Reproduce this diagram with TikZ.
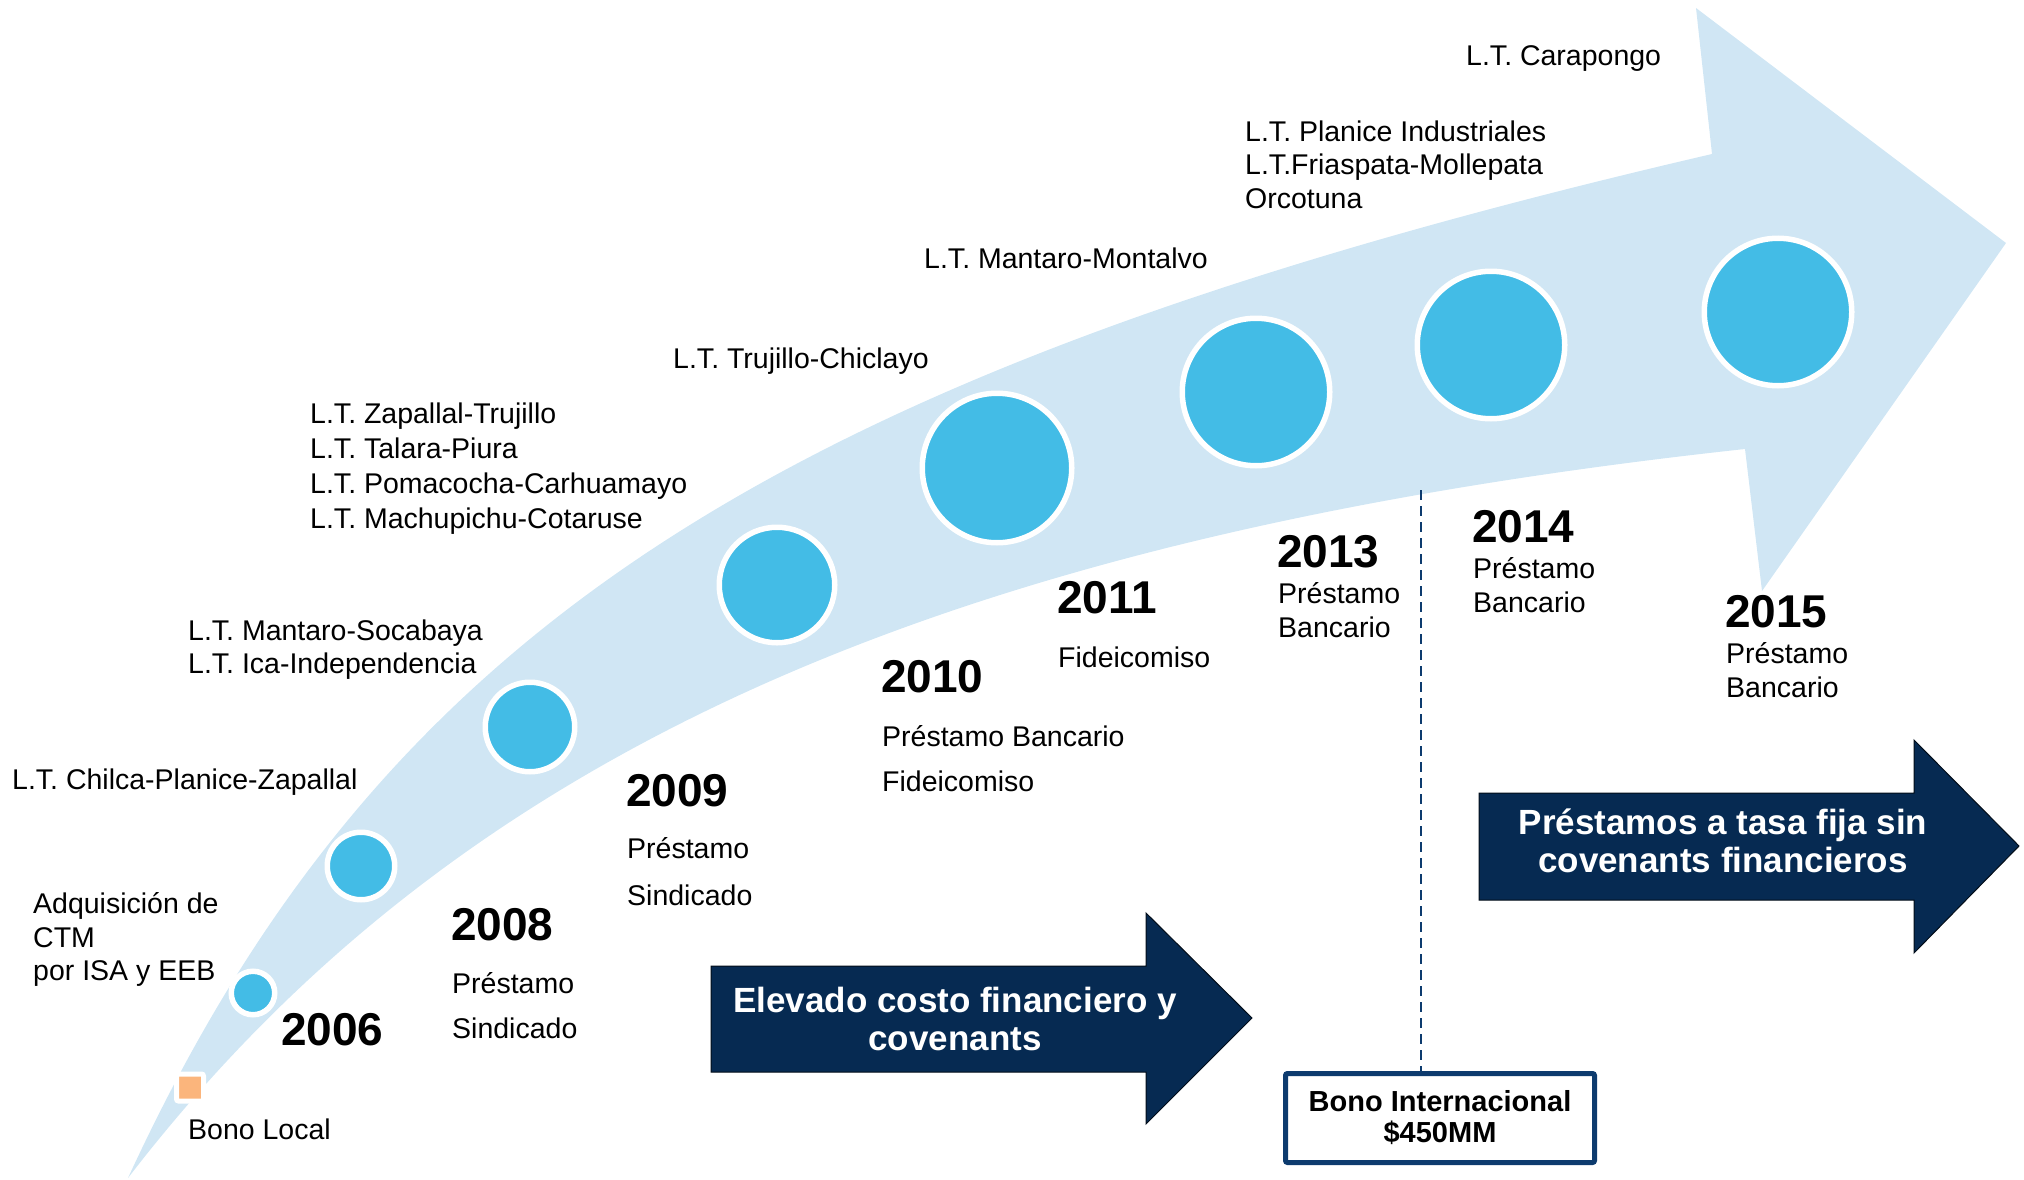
\documentclass[tikz,border=0pt]{standalone}
\usepackage{fontspec}
\setmainfont{Liberation Sans}
\newcommand\lblfont{\fontsize{28.5}{33}\selectfont}
\newcommand\yrfont{\fontsize{46}{50}\selectfont\bfseries}
\newcommand\banfont{\fontsize{35}{35}\selectfont\bfseries}
\newcommand\bxfont{\fontsize{29}{31}\selectfont\bfseries}
\definecolor{bandc}{RGB}{208,230,244}
\definecolor{dotc}{RGB}{67,188,230}
\definecolor{navyc}{RGB}{6,42,82}
\definecolor{boxc}{RGB}{13,59,110}
\definecolor{orangec}{RGB}{251,181,124}
\begin{document}
\begin{tikzpicture}[x=1pt,y=-1pt,
  lbl/.style={anchor=base west, inner sep=0pt, font=\lblfont},
  yr/.style={anchor=base west, inner sep=0pt, font=\yrfont},
  ban/.style={anchor=base, inner sep=0pt, font=\banfont, text=white},
  dot/.style={circle, fill=dotc, draw=white, line width=5.5pt, inner sep=0pt, minimum size=#1},
  banner/.style={fill=navyc, draw=black!70!navyc, line width=1pt}]
\useasboundingbox (0,0) rectangle (2024,1180);
% big curved arrow
\fill[bandc] (128,1178) .. controls (382,627) and (778,371) .. (1712,154)
  -- (1696,8) -- (2006,243) -- (1762,591) -- (1745,449)
  .. controls (925,538) and (449,761) .. (128,1178) -- cycle;
% milestones
\node[rectangle, fill=orangec, draw=white, line width=5pt, rounded corners=2pt, minimum size=27pt, inner sep=0pt] (sq) at (190,1087.5) {};
\node[dot=43.5pt] (c1) at (253,993) {};
\node[dot=67.5pt] (c2) at (361,866) {};
\node[dot=89.5pt] (c3) at (530,727) {};
\node[dot=115.5pt] (c4) at (777,585) {};
\node[dot=149.5pt] (c5) at (997,468) {};
\node[dot=147.5pt] (c6) at (1256,392) {};
\node[dot=147.5pt] (c7) at (1491,345) {};
\node[dot=147.5pt] (c8) at (1778,312) {};
% upper labels
\node[lbl] (t1) at (1466,66) {L.T. Carapongo};
\node[lbl] (t2a) at (1245,142) {L.T. Planice Industriales};
\node[lbl] (t2b) at (1245,175) {L.T.Friaspata-Mollepata};
\node[lbl] (t2c) at (1245,208) {Orcotuna};
\node[lbl] (t3) at (924,268) {L.T. Mantaro-Montalvo};
\node[lbl] (t4) at (673,368) {L.T. Trujillo-Chiclayo};
\node[lbl] (t5a) at (310,423) {L.T. Zapallal-Trujillo};
\node[lbl] (t5b) at (310,458) {L.T. Talara-Piura};
\node[lbl] (t5c) at (310,493) {L.T. Pomacocha-Carhuamayo};
\node[lbl] (t5d) at (310,528) {L.T. Machupichu-Cotaruse};
\node[lbl] (t6a) at (188,640) {L.T. Mantaro-Socabaya};
\node[lbl] (t6b) at (188,673) {L.T. Ica-Independencia};
\node[lbl] (t7) at (12,789) {L.T. Chilca-Planice-Zapallal};
\node[lbl] (t8a) at (33,913) {Adquisición de};
\node[lbl] (t8b) at (33,947) {CTM};
\node[lbl] (t8c) at (33,980) {por ISA y EEB};
\node[lbl] (t9) at (188,1139) {Bono Local};
% years
\node[yr] (y06) at (281,1045) {2006};
\node[yr] (y08) at (451,940) {2008};
\node[lbl] (y08a) at (452,993) {Préstamo};
\node[lbl] (y08b) at (452,1038) {Sindicado};
\node[yr] (y09) at (626,806) {2009};
\node[lbl] (y09a) at (627,858) {Préstamo};
\node[lbl] (y09b) at (627,905) {Sindicado};
\node[yr] (y10) at (881,692) {2010};
\node[lbl] (y10a) at (882,746) {Préstamo Bancario};
\node[lbl] (y10b) at (882,791) {Fideicomiso};
\node[yr] (y11) at (1057,613) {2011};
\node[lbl] (y11a) at (1058,667) {Fideicomiso};
\node[yr] (y13) at (1277,567) {2013};
\node[lbl] (y13a) at (1278,603) {Préstamo};
\node[lbl] (y13b) at (1278,637) {Bancario};
\node[yr] (y14) at (1472,542) {2014};
\node[lbl] (y14a) at (1473,578) {Préstamo};
\node[lbl] (y14b) at (1473,612) {Bancario};
\node[yr] (y15) at (1725,627) {2015};
\node[lbl] (y15a) at (1726,663) {Préstamo};
\node[lbl] (y15b) at (1726,697) {Bancario};
% banners
\draw[banner] (711,966) -- (1146,966) -- (1146,913) -- (1252,1018) -- (1146,1124) -- (1146,1072) -- (711,1072) -- cycle;
\node[ban] (b1a) at (955,1012) {Elevado costo financiero y};
\node[ban] (b1b) at (955,1050) {covenants};
\draw[banner] (1479,793) -- (1914,793) -- (1914,740) -- (2019,846) -- (1914,953) -- (1914,900) -- (1479,900) -- cycle;
\node[ban] (b2a) at (1723,834) {Préstamos a tasa fija sin};
\node[ban] (b2b) at (1723,872) {covenants financieros};
% international bond
\node[draw=boxc, fill=white, line width=5pt, rounded corners=2pt, minimum width=309pt, minimum height=89pt, align=center, font=\bxfont, inner sep=0pt] (bono) at (1440,1118) {Bono Internacional\\\$450MM};
\coordinate (dtop) at (1421,490);
\draw[boxc, line width=2pt, dash pattern=on 10pt off 6pt] (dtop) -- (dtop |- bono.north);
\end{tikzpicture}
\end{document}
